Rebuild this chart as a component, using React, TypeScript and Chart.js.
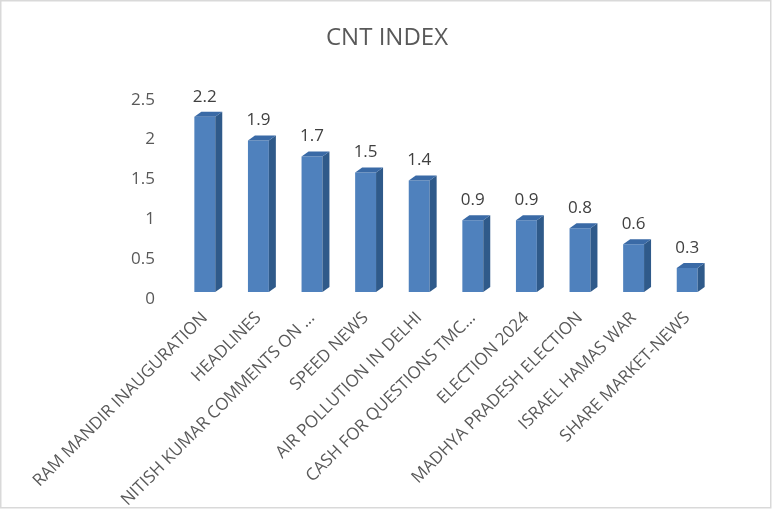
import React, { useEffect, useRef } from "react";
import { Chart, registerables } from "chart.js";

Chart.register(...registerables);

const categories = [
  "RAM MANDIR INAUGURATION",
  "HEADLINES",
  "NITISH KUMAR COMMENTS ON ...",
  "SPEED NEWS",
  "AIR POLLUTION IN DELHI",
  "CASH FOR QUESTIONS TMC...",
  "ELECTION 2024",
  "MADHYA PRADESH ELECTION",
  "ISRAEL HAMAS WAR",
  "SHARE MARKET-NEWS",
];
const cntIndex = [2.2, 1.9, 1.7, 1.5, 1.4, 0.9, 0.9, 0.8, 0.6, 0.3];
const chartTitle = "CNT INDEX";

const FONT = "'Open Sans', 'DejaVu Sans', sans-serif";
const DX = 7;
const DY = 5;

const bgPlugin = {
  id: "bgBorder",
  beforeDraw(chart: any) {
    const ctx = chart.ctx;
    ctx.save();
    ctx.fillStyle = "#ffffff";
    ctx.fillRect(0, 0, chart.width, chart.height);
    ctx.strokeStyle = "#D9D9D9";
    ctx.lineWidth = 1.5;
    ctx.strokeRect(0.75, 0.75, 770, 507);
    ctx.restore();
  },
};

const bar3dPlugin = {
  id: "bar3d",
  afterDatasetsDraw(chart: any) {
    const ctx = chart.ctx;
    const meta = chart.getDatasetMeta(0);
    ctx.save();
    meta.data.forEach((bar: any, i: number) => {
      const { x, y, base, width } = bar.getProps(["x", "y", "base", "width"], true);
      const l = x - width / 2;
      const r = x + width / 2;
      ctx.fillStyle = "#2F5A8A";
      ctx.beginPath();
      ctx.moveTo(r, y);
      ctx.lineTo(r + DX, y - DY);
      ctx.lineTo(r + DX, base - DY);
      ctx.lineTo(r, base);
      ctx.closePath();
      ctx.fill();
      ctx.fillStyle = "#3A6AA6";
      ctx.beginPath();
      ctx.moveTo(l, y);
      ctx.lineTo(l + DX, y - DY);
      ctx.lineTo(r + DX, y - DY);
      ctx.lineTo(r, y);
      ctx.closePath();
      ctx.fill();
      ctx.fillStyle = "#404040";
      ctx.font = `17px ${FONT}`;
      ctx.textAlign = "center";
      ctx.textBaseline = "middle";
      ctx.fillText(String(cntIndex[i]), x, y - 20);
    });
    ctx.restore();
  },
};

export default function App() {
  const ref = useRef<HTMLCanvasElement>(null);
  useEffect(() => {
    if (!ref.current) return;
    const chart = new Chart(ref.current, {
      type: "bar",
      data: {
        labels: categories,
        datasets: [
          {
            data: cntIndex,
            backgroundColor: "#4F81BD",
            borderWidth: 0,
            barPercentage: 0.39,
            categoryPercentage: 1,
            yAxisID: "y",
          },
        ],
      },
      options: {
        responsive: false,
        animation: false,
        layout: { padding: 0 },
        plugins: {
          legend: { display: false },
          tooltip: { enabled: false },
          title: {
            display: true,
            text: chartTitle,
            color: "#595959",
            font: { family: FONT, size: 24, weight: "normal" },
            padding: { top: 24, bottom: 40 },
          },
        },
        scales: {
          x: {
            grid: { display: false, drawTicks: false },
            border: { display: false },
            ticks: {
              color: "#595959",
              font: { family: FONT, size: 17 },
              minRotation: 45,
              maxRotation: 45,
              autoSkip: false,
              padding: 16,
            },
            afterFit(scale: any) {
              scale.paddingLeft = 0;
              scale.paddingRight = 0;
              scale.height = 221;
            },
          },
          y: {
            min: 0,
            max: 2.5,
            grid: { display: false, drawTicks: false },
            border: { display: false },
            ticks: {
              stepSize: 0.5,
              color: "#595959",
              font: { family: FONT, size: 17 },
              padding: 23,
              labelOffset: 7,
              callback: (v: any) => String(Math.round(Number(v) * 10) / 10),
            },
            afterFit(scale: any) {
              scale.width = 178;
            },
          },
          yR: {
            position: "right",
            min: 0,
            max: 2.5,
            grid: { display: false, drawTicks: false },
            border: { display: false },
            ticks: { display: false },
            afterFit(scale: any) {
              scale.width = 60;
            },
          },
        },
      },
      plugins: [bgPlugin, bar3dPlugin],
    });
    return () => chart.destroy();
  }, []);
  return (
    <div style={{ position: "fixed", left: 0, top: 0, width: 774, height: 513 }}>
      <canvas ref={ref} width={774} height={513} style={{ display: "block" }} />
    </div>
  );
}
